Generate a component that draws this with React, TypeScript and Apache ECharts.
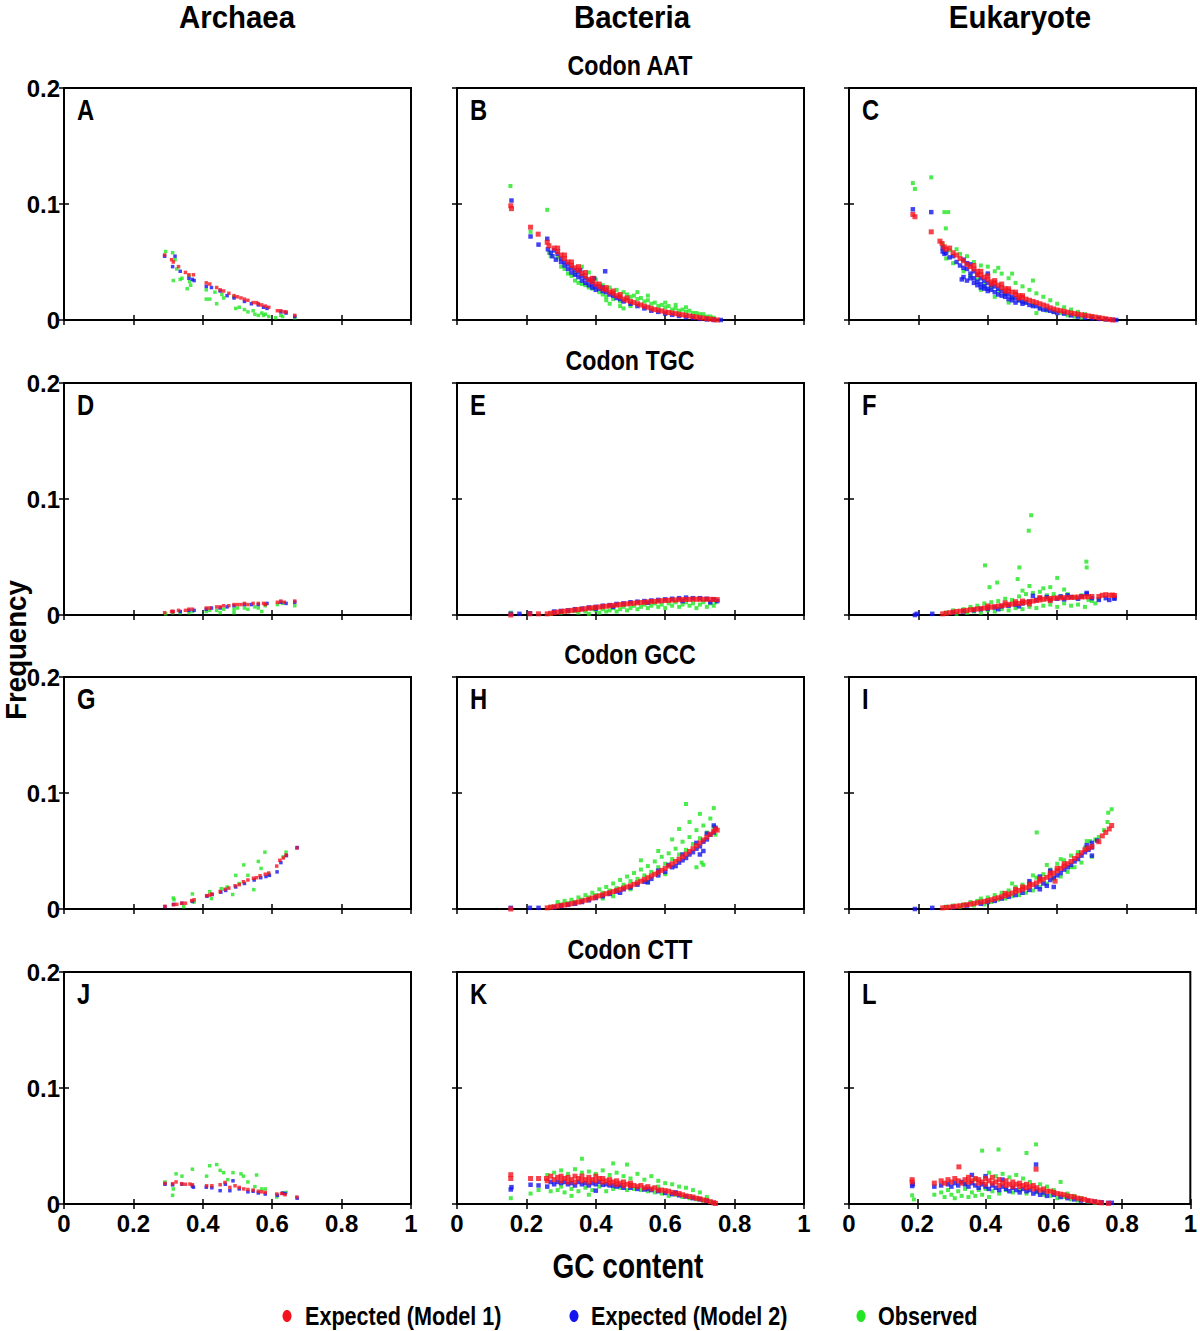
import React, { useEffect, useRef } from "react";
import * as echarts from "echarts";

const FONT = "'Liberation Sans', Arial, sans-serif";

const domains = ["Archaea", "Bacteria", "Eukaryote"];
const codons = ["Codon AAT", "Codon TGC", "Codon GCC", "Codon CTT"];
const panelLetters = ["A", "B", "C", "D", "E", "F", "G", "H", "I", "J", "K", "L"];
const seriesNames = ["Expected (Model 1)", "Expected (Model 2)", "Observed"];
const seriesColors = ["#f5141e", "#1414f0", "#22e622"];
const xAxisTitle = "GC content";
const yAxisTitle = "Frequency";

// ---------- Codon AAT ----------
const aatArchaeaM1 = [[0.29,0.056],[0.31,0.052],[0.315,0.05],[0.33,0.046],[0.35,0.041],[0.36,0.039],[0.373,0.039],[0.41,0.032],[0.42,0.031],[0.44,0.028],[0.45,0.026],[0.46,0.025],[0.475,0.023],[0.49,0.021],[0.5,0.02],[0.51,0.019],[0.52,0.018],[0.53,0.017],[0.545,0.015],[0.555,0.015],[0.56,0.014],[0.57,0.013],[0.58,0.012],[0.59,0.011],[0.615,0.008],[0.625,0.008],[0.635,0.007],[0.64,0.007],[0.665,0.004]];
const aatArchaeaM2 = [[0.29,0.055],[0.313,0.046],[0.32,0.055],[0.335,0.042],[0.36,0.036],[0.37,0.035],[0.375,0.034],[0.41,0.029],[0.425,0.028],[0.45,0.025],[0.47,0.021],[0.49,0.019],[0.52,0.016],[0.54,0.014],[0.56,0.013],[0.575,0.011],[0.585,0.01],[0.625,0.007],[0.64,0.006],[0.665,0.003]];
const aatArchaeaObs = [[0.293,0.059],[0.313,0.058],[0.32,0.052],[0.315,0.034],[0.325,0.044],[0.335,0.035],[0.34,0.036],[0.355,0.027],[0.36,0.038],[0.362,0.033],[0.365,0.03],[0.41,0.026],[0.41,0.018],[0.42,0.018],[0.435,0.024],[0.44,0.014],[0.455,0.022],[0.46,0.019],[0.49,0.02],[0.495,0.01],[0.505,0.011],[0.52,0.009],[0.53,0.007],[0.545,0.008],[0.55,0.005],[0.56,0.004],[0.57,0.006],[0.575,0.004],[0.58,0.005],[0.59,0.003],[0.61,0.002],[0.625,0.004],[0.63,0.003],[0.665,0.002]];

const aatBacteriaM1 = [[0.155,0.0985],[0.157,0.096],[0.212,0.08],[0.234,0.074],[0.26,0.067],[0.265,0.064],[0.28,0.062],[0.29,0.059],[0.3,0.056],[0.31,0.053],[0.32,0.05],[0.33,0.047],[0.34,0.045],[0.35,0.043],[0.36,0.04],[0.37,0.038],[0.38,0.035],[0.39,0.033],[0.4,0.031],[0.41,0.029],[0.42,0.027],[0.43,0.026],[0.44,0.024],[0.45,0.023],[0.46,0.021],[0.47,0.02],[0.48,0.018],[0.49,0.017],[0.5,0.016],[0.51,0.015],[0.52,0.014],[0.53,0.013],[0.54,0.012],[0.55,0.011],[0.56,0.01],[0.57,0.009],[0.58,0.0085],[0.59,0.0078],[0.6,0.007],[0.61,0.0065],[0.62,0.006],[0.63,0.0055],[0.64,0.005],[0.65,0.0045],[0.66,0.004],[0.67,0.0035],[0.68,0.003],[0.69,0.0025],[0.7,0.002],[0.71,0.0016],[0.72,0.0012],[0.73,0.0008],[0.74,0.0004],[0.75,0],[0.29,0.062],[0.31,0.056],[0.33,0.05],[0.35,0.046],[0.37,0.041],[0.39,0.036],[0.41,0.031],[0.43,0.028],[0.45,0.025],[0.47,0.022],[0.49,0.019]];
const aatBacteriaM2 = [[0.157,0.103],[0.212,0.072],[0.235,0.065],[0.26,0.07],[0.262,0.061],[0.27,0.058],[0.275,0.055],[0.28,0.06],[0.285,0.052],[0.29,0.057],[0.3,0.053],[0.3,0.05],[0.31,0.05],[0.31,0.047],[0.32,0.048],[0.32,0.044],[0.33,0.045],[0.33,0.041],[0.34,0.043],[0.34,0.039],[0.35,0.041],[0.35,0.037],[0.355,0.043],[0.36,0.038],[0.36,0.034],[0.37,0.036],[0.37,0.032],[0.38,0.034],[0.38,0.03],[0.39,0.031],[0.39,0.028],[0.39,0.034],[0.395,0.036],[0.4,0.029],[0.4,0.026],[0.41,0.027],[0.42,0.025],[0.42,0.028],[0.427,0.042],[0.43,0.024],[0.44,0.022],[0.45,0.021],[0.46,0.019],[0.47,0.018],[0.48,0.016],[0.5,0.014],[0.52,0.012],[0.54,0.01],[0.56,0.008],[0.58,0.007],[0.6,0.0055],[0.62,0.0045],[0.64,0.0035],[0.66,0.0025],[0.68,0.0018],[0.7,0.001],[0.72,0.0005],[0.74,0],[0.76,0]];
const aatBacteriaObs = [[0.154,0.1155],[0.212,0.076],[0.26,0.095],[0.265,0.058],[0.27,0.055],[0.29,0.054],[0.3,0.046],[0.31,0.044],[0.32,0.04],[0.33,0.038],[0.34,0.034],[0.34,0.04],[0.35,0.032],[0.36,0.046],[0.36,0.031],[0.37,0.03],[0.38,0.041],[0.38,0.028],[0.39,0.027],[0.4,0.035],[0.41,0.024],[0.42,0.03],[0.42,0.022],[0.43,0.02],[0.43,0.017],[0.44,0.028],[0.44,0.014],[0.45,0.018],[0.46,0.026],[0.47,0.016],[0.47,0.012],[0.48,0.024],[0.48,0.01],[0.49,0.022],[0.5,0.02],[0.5,0.012],[0.51,0.021],[0.52,0.018],[0.52,0.024],[0.53,0.019],[0.54,0.016],[0.55,0.017],[0.55,0.021],[0.56,0.014],[0.57,0.015],[0.58,0.012],[0.59,0.013],[0.6,0.011],[0.6,0.015],[0.61,0.012],[0.62,0.009],[0.63,0.01],[0.63,0.013],[0.64,0.008],[0.65,0.009],[0.66,0.007],[0.66,0.011],[0.67,0.008],[0.68,0.006],[0.69,0.006],[0.7,0.005],[0.71,0.005],[0.72,0.003],[0.73,0.003],[0.74,0.002]];

const aatEukaryoteM1 = [[0.184,0.091],[0.19,0.089],[0.237,0.076],[0.262,0.068],[0.268,0.066],[0.275,0.063],[0.28,0.061],[0.29,0.062],[0.3,0.058],[0.31,0.056],[0.32,0.053],[0.33,0.051],[0.34,0.048],[0.35,0.046],[0.36,0.044],[0.37,0.042],[0.38,0.039],[0.39,0.037],[0.4,0.035],[0.41,0.033],[0.42,0.032],[0.43,0.03],[0.44,0.028],[0.45,0.027],[0.46,0.025],[0.47,0.024],[0.48,0.022],[0.49,0.021],[0.5,0.0195],[0.51,0.018],[0.52,0.017],[0.53,0.016],[0.54,0.015],[0.55,0.014],[0.56,0.013],[0.57,0.012],[0.58,0.0105],[0.59,0.0095],[0.6,0.0086],[0.61,0.008],[0.62,0.0074],[0.63,0.0067],[0.64,0.006],[0.65,0.0055],[0.66,0.005],[0.67,0.0045],[0.68,0.004],[0.69,0.0035],[0.7,0.003],[0.71,0.0025],[0.72,0.002],[0.73,0.0015],[0.74,0.001],[0.75,0.0005],[0.76,0],[0.36,0.047],[0.38,0.042],[0.4,0.038],[0.42,0.034],[0.44,0.031],[0.46,0.027],[0.48,0.024],[0.5,0.021],[0.37,0.039],[0.41,0.031],[0.45,0.025],[0.49,0.019]];
const aatEukaryoteM2 = [[0.184,0.0954],[0.237,0.093],[0.27,0.062],[0.27,0.059],[0.275,0.057],[0.28,0.058],[0.29,0.054],[0.3,0.055],[0.31,0.05],[0.32,0.047],[0.325,0.035],[0.33,0.052],[0.33,0.045],[0.33,0.037],[0.34,0.044],[0.34,0.049],[0.34,0.034],[0.35,0.04],[0.35,0.048],[0.35,0.036],[0.36,0.042],[0.36,0.036],[0.36,0.032],[0.37,0.039],[0.37,0.033],[0.37,0.03],[0.38,0.036],[0.38,0.031],[0.38,0.028],[0.39,0.034],[0.39,0.029],[0.39,0.027],[0.4,0.032],[0.4,0.027],[0.4,0.04],[0.4,0.025],[0.41,0.03],[0.41,0.026],[0.42,0.029],[0.42,0.024],[0.43,0.027],[0.43,0.022],[0.44,0.025],[0.44,0.021],[0.45,0.023],[0.45,0.02],[0.46,0.022],[0.46,0.018],[0.47,0.02],[0.47,0.017],[0.48,0.019],[0.48,0.015],[0.49,0.017],[0.5,0.016],[0.5,0.014],[0.51,0.015],[0.52,0.013],[0.53,0.012],[0.54,0.012],[0.55,0.01],[0.56,0.009],[0.57,0.009],[0.58,0.008],[0.59,0.007],[0.6,0.006],[0.62,0.0055],[0.64,0.004],[0.66,0.003],[0.68,0.002],[0.7,0.0015],[0.72,0.001],[0.74,0.0005],[0.76,0.0002],[0.77,0]];
const aatEukaryoteObs = [[0.184,0.118],[0.19,0.113],[0.237,0.123],[0.275,0.093],[0.286,0.093],[0.279,0.079],[0.27,0.065],[0.28,0.053],[0.29,0.06],[0.3,0.049],[0.31,0.061],[0.32,0.057],[0.33,0.042],[0.34,0.055],[0.35,0.038],[0.36,0.05],[0.37,0.035],[0.38,0.047],[0.38,0.026],[0.39,0.031],[0.4,0.046],[0.41,0.028],[0.42,0.042],[0.42,0.02],[0.43,0.025],[0.43,0.045],[0.44,0.04],[0.45,0.022],[0.46,0.036],[0.46,0.015],[0.47,0.019],[0.47,0.04],[0.48,0.032],[0.49,0.017],[0.5,0.029],[0.51,0.015],[0.52,0.026],[0.53,0.013],[0.53,0.034],[0.54,0.023],[0.54,0.006],[0.55,0.01],[0.56,0.02],[0.57,0.008],[0.58,0.017],[0.59,0.007],[0.6,0.014],[0.61,0.006],[0.62,0.011],[0.63,0.004],[0.64,0.009],[0.65,0.003],[0.66,0.007],[0.67,0.002],[0.68,0.005],[0.7,0.003],[0.72,0.002],[0.74,0.001]];

// ---------- Codon TGC ----------
const tgcArchaeaM1 = [[0.29,0.002],[0.31,0.003],[0.315,0.003],[0.33,0.004],[0.35,0.004],[0.36,0.005],[0.37,0.005],[0.41,0.006],[0.42,0.006],[0.44,0.007],[0.45,0.007],[0.46,0.008],[0.475,0.008],[0.49,0.009],[0.5,0.009],[0.51,0.009],[0.52,0.01],[0.53,0.009],[0.545,0.01],[0.56,0.01],[0.575,0.01],[0.58,0.009],[0.615,0.011],[0.625,0.012],[0.635,0.011],[0.665,0.012]];
const tgcArchaeaM2 = [[0.313,0.003],[0.335,0.003],[0.36,0.004],[0.375,0.004],[0.41,0.005],[0.425,0.006],[0.45,0.006],[0.47,0.007],[0.49,0.008],[0.52,0.009],[0.54,0.009],[0.56,0.009],[0.585,0.01],[0.625,0.011],[0.64,0.01],[0.665,0.011]];
const tgcArchaeaObs = [[0.293,0.001],[0.313,0.002],[0.335,0.002],[0.36,0.002],[0.37,0.003],[0.41,0.003],[0.42,0.004],[0.44,0.004],[0.45,0.002],[0.46,0.005],[0.49,0.005],[0.49,0.002],[0.5,0.006],[0.52,0.006],[0.53,0.005],[0.55,0.007],[0.56,0.006],[0.57,0.003],[0.58,0.008],[0.615,0.009],[0.63,0.01],[0.665,0.008]];

const tgcBacteriaM1 = [[0.155,0],[0.21,0.001],[0.235,0.001],[0.26,0.001],[0.27,0.0015],[0.28,0.002],[0.29,0.0025],[0.3,0.003],[0.31,0.0033],[0.32,0.0036],[0.33,0.004],[0.34,0.0043],[0.35,0.0047],[0.36,0.005],[0.37,0.0054],[0.38,0.0058],[0.39,0.0062],[0.4,0.0065],[0.41,0.0069],[0.42,0.0072],[0.43,0.0076],[0.44,0.008],[0.45,0.0083],[0.46,0.0086],[0.47,0.009],[0.48,0.0093],[0.49,0.0096],[0.5,0.0099],[0.51,0.0102],[0.52,0.0105],[0.53,0.0108],[0.54,0.011],[0.55,0.0113],[0.56,0.0116],[0.57,0.0118],[0.58,0.012],[0.59,0.0123],[0.6,0.0125],[0.61,0.0127],[0.62,0.0129],[0.63,0.013],[0.64,0.0132],[0.65,0.0133],[0.66,0.0134],[0.67,0.0135],[0.68,0.0136],[0.69,0.0136],[0.7,0.0136],[0.71,0.0136],[0.72,0.0135],[0.73,0.0135],[0.74,0.0134],[0.75,0.0133]];
const tgcBacteriaM2 = [[0.155,0.001],[0.18,0.001],[0.21,0.0015],[0.28,0.003],[0.3,0.0035],[0.32,0.004],[0.34,0.005],[0.36,0.0055],[0.38,0.0065],[0.4,0.007],[0.4,0.0055],[0.42,0.008],[0.44,0.0085],[0.45,0.007],[0.46,0.0095],[0.48,0.01],[0.5,0.011],[0.52,0.0115],[0.54,0.012],[0.55,0.0105],[0.56,0.0125],[0.58,0.013],[0.6,0.0135],[0.62,0.014],[0.64,0.0145],[0.65,0.012],[0.66,0.015],[0.68,0.0145],[0.7,0.0145],[0.72,0.014],[0.73,0.011],[0.74,0.0135],[0.75,0.012]];
const tgcBacteriaObs = [[0.155,0.002],[0.157,0.001],[0.27,0.001],[0.3,0.002],[0.32,0.003],[0.34,0.0035],[0.35,0.002],[0.37,0.003],[0.38,0.001],[0.39,0.005],[0.4,0.004],[0.41,0.002],[0.42,0.005],[0.43,0.003],[0.44,0.004],[0.45,0.006],[0.46,0.003],[0.47,0.005],[0.48,0.007],[0.49,0.004],[0.5,0.006],[0.51,0.008],[0.52,0.005],[0.53,0.007],[0.54,0.009],[0.55,0.006],[0.56,0.008],[0.57,0.01],[0.58,0.007],[0.59,0.009],[0.6,0.006],[0.61,0.01],[0.62,0.008],[0.63,0.011],[0.64,0.007],[0.65,0.009],[0.66,0.011],[0.67,0.008],[0.68,0.01],[0.69,0.006],[0.7,0.009],[0.71,0.011],[0.72,0.007],[0.73,0.01],[0.74,0.008],[0.745,0.011]];

const tgcEukaryoteM1 = [[0.27,0.001],[0.28,0.0015],[0.29,0.002],[0.3,0.0025],[0.31,0.003],[0.32,0.0033],[0.33,0.0037],[0.34,0.004],[0.35,0.0045],[0.36,0.0048],[0.37,0.0052],[0.38,0.0055],[0.39,0.006],[0.4,0.0064],[0.4,0.0078],[0.41,0.0068],[0.42,0.0072],[0.43,0.0077],[0.44,0.008],[0.45,0.0085],[0.45,0.0105],[0.46,0.009],[0.47,0.0094],[0.48,0.0098],[0.48,0.0115],[0.49,0.01],[0.5,0.0105],[0.5,0.012],[0.51,0.011],[0.52,0.0115],[0.52,0.0095],[0.53,0.012],[0.54,0.0125],[0.55,0.013],[0.55,0.015],[0.56,0.0135],[0.57,0.014],[0.58,0.0143],[0.58,0.0125],[0.59,0.0145],[0.6,0.0147],[0.61,0.0148],[0.62,0.015],[0.63,0.015],[0.64,0.0152],[0.65,0.0153],[0.66,0.0155],[0.67,0.0156],[0.68,0.0157],[0.69,0.0158],[0.7,0.016],[0.72,0.016],[0.73,0.017],[0.74,0.0175],[0.75,0.017],[0.76,0.0172],[0.765,0.0168]];
const tgcEukaryoteM2 = [[0.19,0],[0.195,0.001],[0.24,0.001],[0.3,0.002],[0.33,0.003],[0.36,0.004],[0.38,0.005],[0.4,0.0055],[0.42,0.0065],[0.43,0.005],[0.44,0.0075],[0.46,0.008],[0.48,0.009],[0.49,0.0075],[0.5,0.01],[0.52,0.0115],[0.53,0.0165],[0.54,0.013],[0.55,0.0145],[0.57,0.0155],[0.58,0.013],[0.6,0.014],[0.61,0.016],[0.62,0.0135],[0.63,0.017],[0.64,0.0155],[0.66,0.014],[0.67,0.016],[0.685,0.019],[0.685,0.018],[0.7,0.0145],[0.72,0.013],[0.74,0.0145],[0.75,0.013],[0.765,0.014],[0.765,0.015]];
const tgcEukaryoteObs = [[0.525,0.086],[0.518,0.0727],[0.392,0.0428],[0.491,0.041],[0.684,0.046],[0.685,0.041],[0.486,0.031],[0.427,0.028],[0.6,0.032],[0.405,0.024],[0.28,0.002],[0.3,0.004],[0.31,0.001],[0.33,0.005],[0.34,0.002],[0.35,0.007],[0.36,0.003],[0.37,0.008],[0.38,0.002],[0.39,0.01],[0.4,0.004],[0.41,0.011],[0.42,0.003],[0.43,0.012],[0.44,0.005],[0.45,0.014],[0.46,0.004],[0.47,0.013],[0.48,0.006],[0.49,0.016],[0.5,0.005],[0.5,0.021],[0.51,0.018],[0.52,0.007],[0.52,0.025],[0.53,0.019],[0.54,0.006],[0.55,0.02],[0.56,0.008],[0.56,0.023],[0.57,0.017],[0.58,0.009],[0.58,0.024],[0.59,0.018],[0.6,0.007],[0.61,0.016],[0.62,0.01],[0.62,0.022],[0.63,0.018],[0.64,0.008],[0.65,0.015],[0.66,0.009],[0.67,0.017],[0.68,0.007],[0.69,0.013],[0.7,0.012],[0.71,0.01],[0.72,0.014]];

// ---------- Codon GCC ----------
const gccArchaeaM1 = [[0.291,0.0023],[0.315,0.0037],[0.325,0.004],[0.339,0.0049],[0.35,0.005],[0.368,0.0072],[0.375,0.008],[0.411,0.0115],[0.42,0.012],[0.426,0.0129],[0.45,0.015],[0.464,0.017],[0.475,0.018],[0.493,0.02],[0.505,0.021],[0.517,0.0235],[0.53,0.025],[0.546,0.0265],[0.555,0.027],[0.565,0.0287],[0.58,0.03],[0.59,0.031],[0.613,0.037],[0.622,0.042],[0.632,0.044],[0.64,0.0465],[0.671,0.0526]];
const gccArchaeaM2 = [[0.291,0.002],[0.316,0.004],[0.34,0.005],[0.37,0.0065],[0.412,0.011],[0.427,0.0125],[0.452,0.0145],[0.466,0.016],[0.495,0.019],[0.52,0.022],[0.548,0.025],[0.567,0.027],[0.582,0.028],[0.592,0.029],[0.614,0.032],[0.625,0.04],[0.641,0.046],[0.672,0.053]];
const gccArchaeaObs = [[0.315,0.0095],[0.317,0.008],[0.345,0.002],[0.37,0.013],[0.375,0.006],[0.42,0.015],[0.425,0.009],[0.453,0.0175],[0.47,0.019],[0.486,0.0125],[0.495,0.029],[0.505,0.022],[0.518,0.038],[0.53,0.029],[0.547,0.0167],[0.56,0.041],[0.568,0.035],[0.579,0.049],[0.59,0.03],[0.632,0.045],[0.64,0.049]];

const gccBacteriaM1 = [[0.155,0],[0.26,0.001],[0.27,0.0015],[0.28,0.002],[0.29,0.0025],[0.3,0.003],[0.31,0.0035],[0.32,0.004],[0.33,0.0046],[0.34,0.0053],[0.35,0.006],[0.36,0.0068],[0.37,0.0076],[0.38,0.0085],[0.39,0.0095],[0.4,0.0105],[0.41,0.0114],[0.42,0.0123],[0.43,0.0132],[0.44,0.0141],[0.45,0.015],[0.46,0.016],[0.47,0.017],[0.48,0.018],[0.49,0.019],[0.5,0.02],[0.51,0.0213],[0.52,0.0226],[0.53,0.024],[0.54,0.0255],[0.55,0.027],[0.56,0.0285],[0.57,0.03],[0.58,0.0317],[0.59,0.0333],[0.6,0.035],[0.61,0.037],[0.62,0.039],[0.63,0.041],[0.64,0.043],[0.65,0.045],[0.66,0.0473],[0.67,0.0496],[0.68,0.052],[0.69,0.0545],[0.7,0.057],[0.71,0.0595],[0.72,0.062],[0.73,0.0645],[0.74,0.067],[0.745,0.069],[0.75,0.068]];
const gccBacteriaM2 = [[0.155,0.001],[0.21,0.001],[0.235,0.001],[0.28,0.0015],[0.3,0.0025],[0.32,0.0035],[0.34,0.0045],[0.36,0.006],[0.38,0.0075],[0.4,0.0095],[0.42,0.011],[0.44,0.013],[0.46,0.015],[0.47,0.014],[0.48,0.017],[0.5,0.0185],[0.52,0.021],[0.54,0.0235],[0.55,0.023],[0.56,0.026],[0.58,0.029],[0.58,0.033],[0.6,0.032],[0.61,0.038],[0.62,0.036],[0.63,0.037],[0.64,0.04],[0.65,0.042],[0.65,0.047],[0.66,0.044],[0.67,0.047],[0.68,0.049],[0.69,0.052],[0.69,0.057],[0.7,0.054],[0.7,0.047],[0.71,0.058],[0.71,0.05],[0.72,0.06],[0.72,0.065],[0.73,0.064],[0.74,0.066],[0.74,0.072],[0.745,0.07]];
const gccBacteriaObs = [[0.27,0.002],[0.29,0.006],[0.3,0.004],[0.31,0.007],[0.32,0.005],[0.33,0.008],[0.34,0.006],[0.35,0.01],[0.36,0.008],[0.37,0.012],[0.38,0.01],[0.39,0.014],[0.4,0.012],[0.41,0.017],[0.42,0.014],[0.42,0.009],[0.43,0.019],[0.44,0.016],[0.45,0.022],[0.45,0.011],[0.46,0.018],[0.47,0.025],[0.48,0.021],[0.49,0.028],[0.5,0.024],[0.5,0.017],[0.51,0.031],[0.52,0.026],[0.53,0.034],[0.53,0.042],[0.54,0.029],[0.55,0.037],[0.55,0.023],[0.56,0.032],[0.57,0.041],[0.58,0.036],[0.58,0.05],[0.59,0.045],[0.6,0.039],[0.6,0.03],[0.61,0.048],[0.62,0.043],[0.62,0.06],[0.63,0.052],[0.64,0.047],[0.64,0.069],[0.65,0.058],[0.66,0.0905],[0.66,0.051],[0.67,0.062],[0.67,0.075],[0.68,0.056],[0.69,0.068],[0.69,0.036],[0.7,0.061],[0.7,0.082],[0.705,0.04],[0.71,0.072],[0.71,0.038],[0.72,0.066],[0.73,0.078],[0.74,0.087],[0.74,0.071],[0.745,0.064]];

const gccEukaryoteM1 = [[0.27,0.001],[0.28,0.0013],[0.29,0.0016],[0.3,0.002],[0.31,0.0024],[0.32,0.0028],[0.33,0.0032],[0.34,0.0037],[0.35,0.0042],[0.36,0.0048],[0.37,0.0054],[0.38,0.006],[0.39,0.0066],[0.4,0.0072],[0.41,0.008],[0.42,0.0088],[0.43,0.0097],[0.44,0.0106],[0.45,0.0116],[0.45,0.0135],[0.46,0.0127],[0.47,0.0138],[0.48,0.015],[0.48,0.017],[0.49,0.016],[0.5,0.017],[0.5,0.019],[0.51,0.0183],[0.52,0.0196],[0.52,0.0215],[0.53,0.021],[0.54,0.0225],[0.55,0.024],[0.55,0.026],[0.56,0.0256],[0.57,0.0273],[0.58,0.029],[0.58,0.031],[0.59,0.031],[0.594,0.024],[0.6,0.033],[0.6,0.035],[0.61,0.035],[0.62,0.037],[0.62,0.039],[0.63,0.039],[0.64,0.041],[0.65,0.0435],[0.66,0.046],[0.67,0.0485],[0.68,0.051],[0.69,0.0525],[0.7,0.054],[0.72,0.058],[0.73,0.063],[0.74,0.066],[0.75,0.069],[0.757,0.072]];
const gccEukaryoteM2 = [[0.19,0],[0.24,0.001],[0.3,0.0015],[0.34,0.003],[0.38,0.0045],[0.4,0.006],[0.42,0.007],[0.44,0.009],[0.46,0.0105],[0.48,0.012],[0.5,0.014],[0.52,0.0165],[0.52,0.024],[0.54,0.019],[0.55,0.017],[0.55,0.028],[0.56,0.022],[0.57,0.02],[0.58,0.025],[0.58,0.033],[0.59,0.027],[0.59,0.019],[0.6,0.029],[0.61,0.031],[0.62,0.034],[0.63,0.036],[0.64,0.038],[0.65,0.041],[0.66,0.043],[0.67,0.046],[0.68,0.049],[0.685,0.055],[0.69,0.051],[0.7,0.053],[0.7,0.057],[0.7,0.046],[0.715,0.059]];
const gccEukaryoteObs = [[0.28,0.002],[0.3,0.003],[0.32,0.002],[0.33,0.004],[0.35,0.006],[0.36,0.003],[0.37,0.007],[0.38,0.009],[0.39,0.004],[0.4,0.01],[0.41,0.006],[0.42,0.012],[0.43,0.008],[0.44,0.014],[0.45,0.009],[0.46,0.016],[0.47,0.011],[0.47,0.022],[0.48,0.019],[0.49,0.012],[0.5,0.021],[0.51,0.014],[0.52,0.023],[0.53,0.016],[0.53,0.029],[0.54,0.027],[0.541,0.066],[0.55,0.019],[0.56,0.03],[0.57,0.022],[0.57,0.038],[0.58,0.034],[0.59,0.026],[0.6,0.039],[0.61,0.028],[0.61,0.043],[0.62,0.042],[0.63,0.032],[0.64,0.046],[0.64,0.036],[0.65,0.036],[0.66,0.049],[0.67,0.04],[0.68,0.053],[0.685,0.0585],[0.695,0.0585],[0.7,0.045],[0.71,0.06],[0.72,0.062],[0.735,0.068],[0.745,0.075],[0.747,0.083],[0.757,0.086]];

// ---------- Codon CTT ----------
const cttArchaeaM1 = [[0.291,0.0178],[0.313,0.0175],[0.323,0.019],[0.339,0.0175],[0.35,0.017],[0.363,0.0172],[0.37,0.0166],[0.411,0.0157],[0.426,0.0157],[0.45,0.0166],[0.464,0.0186],[0.478,0.0143],[0.493,0.0157],[0.505,0.0143],[0.518,0.013],[0.53,0.0125],[0.545,0.012],[0.56,0.011],[0.57,0.0105],[0.58,0.01],[0.613,0.0086],[0.627,0.009],[0.637,0.008],[0.671,0.006]];
const cttArchaeaM2 = [[0.291,0.017],[0.313,0.0165],[0.34,0.017],[0.37,0.0155],[0.373,0.0145],[0.41,0.0145],[0.426,0.014],[0.45,0.0115],[0.465,0.017],[0.478,0.0115],[0.487,0.02],[0.505,0.013],[0.53,0.0105],[0.545,0.011],[0.56,0.0095],[0.58,0.0086],[0.615,0.0075],[0.63,0.0095],[0.637,0.009],[0.672,0.005]];
const cttArchaeaObs = [[0.291,0.019],[0.313,0.0075],[0.315,0.013],[0.323,0.026],[0.34,0.024],[0.37,0.03],[0.411,0.024],[0.42,0.033],[0.44,0.034],[0.45,0.029],[0.46,0.027],[0.472,0.021],[0.487,0.027],[0.51,0.026],[0.517,0.024],[0.53,0.019],[0.55,0.015],[0.555,0.025],[0.57,0.013],[0.58,0.013],[0.613,0.006],[0.64,0.01]];

const cttBacteriaM1 = [[0.155,0.0253],[0.155,0.022],[0.212,0.022],[0.235,0.022],[0.258,0.022],[0.26,0.02],[0.27,0.024],[0.28,0.021],[0.29,0.023],[0.3,0.02],[0.3,0.024],[0.31,0.022],[0.32,0.019],[0.32,0.023],[0.33,0.021],[0.34,0.024],[0.34,0.019],[0.35,0.022],[0.36,0.02],[0.36,0.024],[0.37,0.021],[0.38,0.023],[0.38,0.019],[0.39,0.021],[0.4,0.024],[0.4,0.02],[0.41,0.022],[0.42,0.019],[0.42,0.022],[0.43,0.02],[0.44,0.021],[0.44,0.018],[0.45,0.019],[0.46,0.017],[0.46,0.02],[0.47,0.018],[0.48,0.019],[0.48,0.016],[0.49,0.017],[0.5,0.016],[0.5,0.018],[0.51,0.016],[0.52,0.015],[0.53,0.016],[0.54,0.014],[0.55,0.015],[0.56,0.013],[0.57,0.014],[0.58,0.012],[0.59,0.012],[0.6,0.0115],[0.61,0.011],[0.62,0.01],[0.63,0.009],[0.64,0.009],[0.65,0.008],[0.66,0.007],[0.67,0.0065],[0.68,0.006],[0.69,0.005],[0.7,0.0045],[0.71,0.0035],[0.72,0.003],[0.73,0.002],[0.74,0.001],[0.745,0.0005]];
const cttBacteriaM2 = [[0.155,0.0125],[0.157,0.0145],[0.212,0.0166],[0.235,0.016],[0.26,0.015],[0.27,0.019],[0.28,0.017],[0.29,0.019],[0.3,0.018],[0.31,0.019],[0.32,0.017],[0.33,0.018],[0.34,0.016],[0.35,0.019],[0.36,0.017],[0.37,0.018],[0.38,0.016],[0.39,0.018],[0.4,0.017],[0.4,0.0115],[0.41,0.019],[0.42,0.0165],[0.43,0.017],[0.44,0.016],[0.45,0.016],[0.46,0.015],[0.47,0.016],[0.48,0.014],[0.5,0.014],[0.52,0.013],[0.54,0.0125],[0.55,0.013],[0.56,0.012],[0.58,0.011],[0.6,0.0095],[0.62,0.0085],[0.63,0.01],[0.64,0.0075],[0.66,0.0065],[0.68,0.005],[0.7,0.004],[0.72,0.0025],[0.74,0.001]];
const cttBacteriaObs = [[0.155,0.005],[0.212,0.009],[0.235,0.012],[0.26,0.025],[0.27,0.011],[0.28,0.027],[0.29,0.012],[0.3,0.029],[0.3,0.015],[0.31,0.01],[0.32,0.026],[0.33,0.013],[0.33,0.007],[0.34,0.03],[0.35,0.011],[0.36,0.039],[0.36,0.027],[0.37,0.014],[0.38,0.028],[0.38,0.008],[0.39,0.012],[0.4,0.026],[0.41,0.015],[0.42,0.029],[0.43,0.011],[0.44,0.025],[0.45,0.035],[0.45,0.013],[0.46,0.027],[0.47,0.014],[0.48,0.024],[0.49,0.034],[0.49,0.012],[0.5,0.022],[0.51,0.013],[0.52,0.026],[0.53,0.012],[0.54,0.021],[0.55,0.011],[0.56,0.024],[0.57,0.01],[0.58,0.02],[0.58,0.015],[0.59,0.009],[0.6,0.018],[0.61,0.007],[0.62,0.017],[0.63,0.008],[0.64,0.015],[0.65,0.006],[0.66,0.014],[0.67,0.005],[0.68,0.012],[0.69,0.004],[0.7,0.01],[0.71,0.003],[0.72,0.006],[0.73,0.002]];

const cttEukaryoteM1 = [[0.185,0.021],[0.185,0.019],[0.25,0.018],[0.27,0.02],[0.28,0.018],[0.29,0.021],[0.3,0.019],[0.31,0.022],[0.32,0.02],[0.322,0.032],[0.33,0.018],[0.34,0.021],[0.35,0.023],[0.35,0.019],[0.36,0.02],[0.37,0.022],[0.38,0.018],[0.38,0.021],[0.39,0.019],[0.4,0.022],[0.4,0.017],[0.41,0.02],[0.42,0.018],[0.42,0.023],[0.43,0.019],[0.44,0.021],[0.44,0.016],[0.45,0.018],[0.46,0.02],[0.46,0.016],[0.47,0.017],[0.48,0.019],[0.48,0.015],[0.49,0.017],[0.5,0.015],[0.5,0.018],[0.51,0.016],[0.52,0.014],[0.52,0.017],[0.53,0.015],[0.54,0.013],[0.54,0.016],[0.548,0.03],[0.55,0.014],[0.56,0.012],[0.57,0.013],[0.58,0.011],[0.59,0.011],[0.6,0.01],[0.61,0.009],[0.62,0.0085],[0.63,0.008],[0.64,0.007],[0.65,0.0065],[0.66,0.006],[0.67,0.005],[0.68,0.0045],[0.69,0.004],[0.7,0.003],[0.71,0.0025],[0.72,0.002],[0.73,0.0015],[0.74,0.001],[0.76,0.0005]];
const cttEukaryoteM2 = [[0.185,0.0155],[0.187,0.017],[0.25,0.015],[0.27,0.016],[0.29,0.017],[0.3,0.015],[0.31,0.018],[0.32,0.016],[0.33,0.019],[0.34,0.017],[0.35,0.015],[0.36,0.018],[0.36,0.025],[0.37,0.016],[0.38,0.014],[0.39,0.017],[0.4,0.015],[0.4,0.024],[0.41,0.013],[0.42,0.016],[0.43,0.014],[0.44,0.012],[0.45,0.015],[0.45,0.021],[0.46,0.013],[0.47,0.011],[0.48,0.014],[0.49,0.012],[0.5,0.01],[0.51,0.013],[0.52,0.011],[0.53,0.012],[0.54,0.009],[0.548,0.034],[0.55,0.011],[0.56,0.008],[0.57,0.01],[0.58,0.007],[0.6,0.008],[0.62,0.006],[0.64,0.005],[0.66,0.004],[0.68,0.003],[0.7,0.0025],[0.72,0.002],[0.74,0.0015],[0.76,0.001],[0.77,0.001]];
const cttEukaryoteObs = [[0.185,0.0075],[0.19,0.004],[0.25,0.008],[0.27,0.01],[0.28,0.006],[0.29,0.012],[0.3,0.008],[0.31,0.005],[0.32,0.011],[0.33,0.007],[0.34,0.013],[0.34,0.017],[0.35,0.006],[0.36,0.01],[0.37,0.007],[0.37,0.021],[0.38,0.012],[0.39,0.046],[0.39,0.008],[0.4,0.013],[0.41,0.006],[0.41,0.027],[0.42,0.011],[0.43,0.024],[0.438,0.047],[0.44,0.009],[0.45,0.026],[0.46,0.012],[0.47,0.023],[0.48,0.01],[0.49,0.025],[0.5,0.012],[0.51,0.022],[0.52,0.044],[0.52,0.009],[0.53,0.019],[0.548,0.0514],[0.55,0.01],[0.56,0.017],[0.57,0.008],[0.58,0.015],[0.59,0.007],[0.6,0.012],[0.61,0.005],[0.62,0.019],[0.63,0.006],[0.64,0.009],[0.65,0.004],[0.66,0.007],[0.67,0.003],[0.68,0.005],[0.7,0.002],[0.72,0.001]];

// rows: codons, cols: domains; each entry [Model1, Model2, Observed]
const panels = [
  [aatArchaeaM1, aatArchaeaM2, aatArchaeaObs], [aatBacteriaM1, aatBacteriaM2, aatBacteriaObs], [aatEukaryoteM1, aatEukaryoteM2, aatEukaryoteObs],
  [tgcArchaeaM1, tgcArchaeaM2, tgcArchaeaObs], [tgcBacteriaM1, tgcBacteriaM2, tgcBacteriaObs], [tgcEukaryoteM1, tgcEukaryoteM2, tgcEukaryoteObs],
  [gccArchaeaM1, gccArchaeaM2, gccArchaeaObs], [gccBacteriaM1, gccBacteriaM2, gccBacteriaObs], [gccEukaryoteM1, gccEukaryoteM2, gccEukaryoteObs],
  [cttArchaeaM1, cttArchaeaM2, cttArchaeaObs], [cttBacteriaM1, cttBacteriaM2, cttBacteriaObs], [cttEukaryoteM1, cttEukaryoteM2, cttEukaryoteObs],
];

const COL_LEFT = [64, 457, 849];
const ROW_TOP = [88, 383, 677, 972];
const PW = 347;
const PH = 232;

function txt(text: string, x: number, y: number, size: number, sx: number, extra: any = {}) {
  return {
    type: "text", x, y, scaleX: sx, ...extra,
    style: { text, fill: "#000", font: `bold ${size}px ${FONT}`, textAlign: extra.align || "center", textVerticalAlign: "middle" },
  };
}

export default function App() {
  const ref = useRef<HTMLDivElement>(null);
  useEffect(() => {
    if (!ref.current) return;
    const chart = echarts.init(ref.current, null, { renderer: "svg" });
    const grids: any[] = [];
    const xAxes: any[] = [];
    const yAxes: any[] = [];
    const series: any[] = [];
    const graphics: any[] = [];
    const tick = { show: true, inside: true, length: 5, lineStyle: { color: "#000", width: 1.5 } };
    const labelStyle = { color: "#000", fontSize: 24, fontWeight: "bold", fontFamily: FONT };
    for (let r = 0; r < 4; r++) {
      for (let c = 0; c < 3; c++) {
        const i = r * 3 + c;
        grids.push({ left: COL_LEFT[c], top: ROW_TOP[r], width: PW, height: PH, show: true, borderColor: "#000", borderWidth: 2, backgroundColor: "transparent" });
        xAxes.push({ gridIndex: i, type: "value", position: "bottom", min: 0, max: 1, interval: 0.2, axisLine: { show: false }, axisTick: tick, splitLine: { show: false }, axisLabel: { show: r === 3, margin: 7, ...labelStyle } });
        xAxes.push({ gridIndex: i, type: "value", position: "top", min: 0, max: 1, interval: 0.2, axisLine: { show: false }, axisTick: tick, splitLine: { show: false }, axisLabel: { show: false } });
        yAxes.push({ gridIndex: i, type: "value", position: "left", min: 0, max: 0.2, interval: 0.1, axisLine: { show: false }, axisTick: tick, splitLine: { show: false }, axisLabel: { show: c === 0, margin: 4, ...labelStyle } });
        yAxes.push({ gridIndex: i, type: "value", position: "right", min: 0, max: 0.2, interval: 0.1, axisLine: { show: false }, axisTick: tick, splitLine: { show: false }, axisLabel: { show: false } });
        const order = [2, 1, 0];
        const sizes = c === 0 ? [3.5, 3.5, 3.5] : [5, 4.5, 4];
        order.forEach((s, k) => {
          series.push({
            name: seriesNames[s], type: "scatter", xAxisIndex: i * 2, yAxisIndex: i * 2,
            data: panels[i][s], symbol: "rect", symbolSize: sizes[s],
            itemStyle: { color: seriesColors[s] }, z: 2 + k, silent: true,
          });
        });
        graphics.push(txt(panelLetters[i], COL_LEFT[c] + 13, ROW_TOP[r] + 22, 29, 0.82, { align: "left" }));
      }
      graphics.push(txt(codons[r], 630, ROW_TOP[r] - 23, 27, 0.86));
    }
    const colCenters = [237, 632, 1020];
    domains.forEach((d, c) => graphics.push(txt(d, colCenters[c], 17, 32, 0.92)));
    graphics.push(txt(xAxisTitle, 628, 1266, 35, 0.8));
    graphics.push(txt(yAxisTitle, 16, 650, 30, 0.92, { rotation: Math.PI / 2 }));

    const legendDotX = [287, 574, 861];
    const legendTextX = [305, 591, 878];
    seriesNames.forEach((n, s) => {
      graphics.push({ type: "ellipse", shape: { cx: legendDotX[s], cy: 1316, rx: 4.5, ry: 6 }, style: { fill: seriesColors[s] } });
      graphics.push(txt(n, legendTextX[s], 1316, 26, 0.83, { align: "left" }));
    });

    chart.setOption({
      animation: false,
      backgroundColor: "#fff",
      grid: grids,
      xAxis: xAxes,
      yAxis: yAxes,
      series,
      graphic: graphics,
    });
    return () => chart.dispose();
  }, []);
  return <div ref={ref} style={{ position: "absolute", left: 0, top: 0, width: 1200, height: 1331 }} />;
}
